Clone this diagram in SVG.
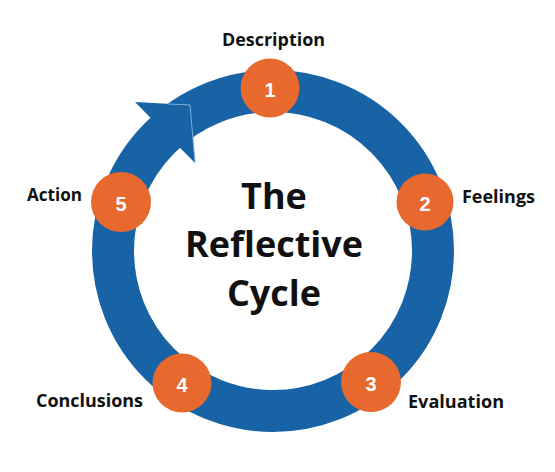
<svg xmlns="http://www.w3.org/2000/svg" width="555" height="472" viewBox="0 0 555 472">
  <style>
    .num { fill: #e8692d; }
    .digit { font-family: "Liberation Sans", Arial, sans-serif; font-weight: bold; font-size: 20px; fill: #ffffff; text-anchor: middle; }
    .label { font-family: "Open Sans", "Noto Sans", sans-serif; font-weight: bold; font-size: 18px; fill: #111111; }
    .title { font-family: "Open Sans", "Noto Sans", sans-serif; font-weight: bold; font-size: 36px; fill: #111111; text-anchor: middle; }
  </style>
  <rect width="555" height="472" fill="#ffffff"/>
  <g id="connectors">
    <circle cx="273" cy="251" r="160" fill="none" stroke="#1763a6" stroke-width="42"/>
    <polygon points="135,102 190,105 195,163" fill="#1763a6"/>
    <polyline points="168,104 190,105 195,162" fill="none" stroke="#7aaedc" stroke-width="1"/>
  </g>
  <g id="title">
    <text class="title" x="274" y="209">The</text>
    <text class="title" x="274" y="257">Reflective</text>
    <text class="title" x="274" y="306">Cycle</text>
  </g>
  <g id="node1">
    <circle class="num" cx="270" cy="88" r="29.5"/>
    <text class="digit" x="270" y="97">1</text>
    <text class="label" x="222" y="46" textLength="103" lengthAdjust="spacingAndGlyphs">Description</text>
  </g>
  <g id="node2">
    <circle class="num" cx="425" cy="202" r="28.5"/>
    <text class="digit" x="425" y="211">2</text>
    <text class="label" x="462" y="203" textLength="73" lengthAdjust="spacingAndGlyphs">Feelings</text>
  </g>
  <g id="node3">
    <circle class="num" cx="371" cy="382" r="30"/>
    <text class="digit" x="371" y="391">3</text>
    <text class="label" x="408" y="408" textLength="96" lengthAdjust="spacingAndGlyphs">Evaluation</text>
  </g>
  <g id="node4">
    <circle class="num" cx="182" cy="383" r="29.5"/>
    <text class="digit" x="182" y="392">4</text>
    <text class="label" x="36" y="407" textLength="107" lengthAdjust="spacingAndGlyphs">Conclusions</text>
  </g>
  <g id="node5">
    <circle class="num" cx="121" cy="202" r="30"/>
    <text class="digit" x="121" y="211">5</text>
    <text class="label" x="27" y="201" textLength="55" lengthAdjust="spacingAndGlyphs">Action</text>
  </g>
</svg>
